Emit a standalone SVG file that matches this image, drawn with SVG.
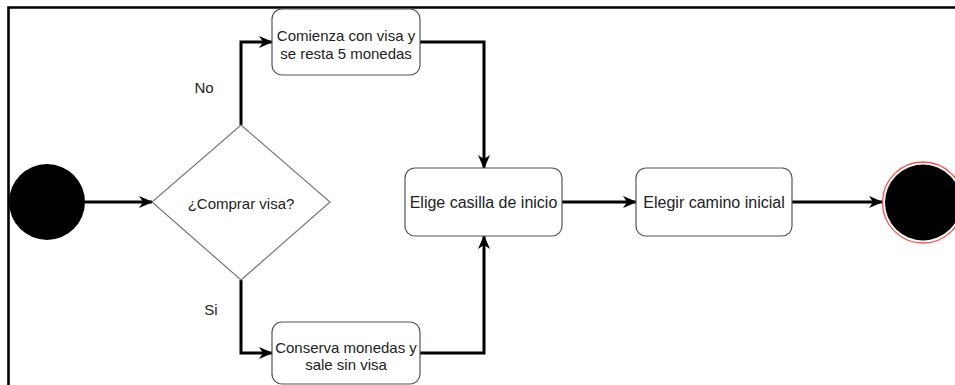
<svg xmlns="http://www.w3.org/2000/svg" width="955" height="385" viewBox="0 0 955 385">
<style>
.node{fill:#fff;stroke:#555;stroke-width:1.2}
.dia{fill:#fff;stroke:#777;stroke-width:1.2}
.t{font-family:"Liberation Sans",Arial,sans-serif;font-size:15px;fill:#222;text-anchor:middle;dominant-baseline:central}
.t16{font-size:16px}
.c{fill:none;stroke:#000;stroke-width:3;marker-end:url(#arr)}
</style>
<defs>
<marker id="arr" viewBox="0 0 14 12" refX="13" refY="6" markerWidth="14" markerHeight="12" markerUnits="userSpaceOnUse" orient="auto">
<path d="M0,0 L14,6 L0,12 L4,6 Z" fill="#000"/>
</marker>
</defs>
<rect width="955" height="385" fill="#fff"/>
<path d="M8.5,385 L8.5,7.5 L955,7.5" fill="none" stroke="#000" stroke-width="2.6"/>
<g id="connectors">
<path class="c" d="M85,202 L152,202"/>
<path class="c" d="M241,125 L241,42 L272,42"/>
<path class="c" d="M241,280 L241,353 L272,353"/>
<path class="c" d="M420,42 L484,42 L484,168"/>
<path class="c" d="M420,353 L484,353 L484,236"/>
<path class="c" d="M562,202 L636,202"/>
<path class="c" d="M792,202 L882,202"/>
</g>
<g id="start"><circle cx="47" cy="202" r="38" fill="#000"/></g>
<g id="decision">
<polygon class="dia" points="241,125 330,202 241,280 152,202"/>
<text class="t" x="241" y="203">¿Comprar visa?</text>
</g>
<g id="label-no"><text class="t" x="204" y="87">No</text></g>
<g id="label-si"><text class="t" x="211" y="309">Si</text></g>
<g id="con-visa">
<rect class="node" x="272" y="9" width="148" height="66" rx="10"/>
<text class="t" x="346" y="35">Comienza con visa y</text>
<text class="t" x="346" y="53">se resta 5 monedas</text>
</g>
<g id="sin-visa">
<rect class="node" x="272" y="322" width="148" height="62" rx="10"/>
<text class="t" x="346" y="347">Conserva monedas y</text>
<text class="t" x="346" y="364">sale sin visa</text>
</g>
<g id="elige">
<rect class="node" x="405" y="168" width="157" height="68" rx="10"/>
<text class="t t16" x="483.5" y="202">Elige casilla de inicio</text>
</g>
<g id="elegir">
<rect class="node" x="636" y="168" width="156" height="68" rx="10"/>
<text class="t t16" x="714" y="202">Elegir camino inicial</text>
</g>
<g id="end">
<circle cx="923" cy="202.5" r="40.5" fill="#fff" stroke="#ff4d4d" stroke-width="1.3"/>
<circle cx="923" cy="202.5" r="38" fill="#000"/>
</g>
</svg>
